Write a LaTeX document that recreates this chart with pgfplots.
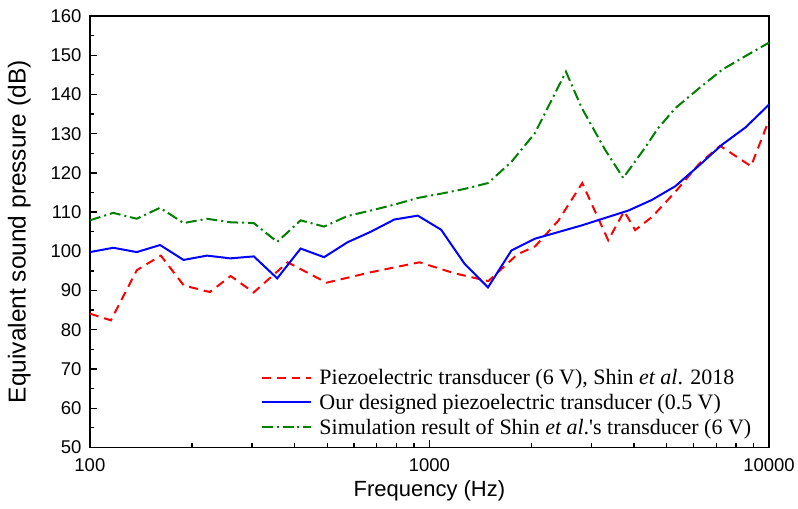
\documentclass[border=0pt]{standalone}
\usepackage{fontspec}
\setmainfont{Liberation Serif}
\newfontfamily\arial{Liberation Sans}
\usepackage{pgfplots}
\pgfplotsset{compat=1.18}
\definecolor{cred}{RGB}{255,0,0}
\definecolor{cblue}{RGB}{0,0,255}
\definecolor{cgreen}{RGB}{0,128,0}
\begin{document}
\begin{tikzpicture}
\begin{axis}[
  xmode=log,
  width=680pt, height=432pt, scale only axis,
  xmin=100, xmax=10000, ymin=50, ymax=160,
  xtick={100,1000,10000}, xticklabels={100,1000,10000},
  minor xtick={200,300,400,500,600,700,800,900,2000,3000,4000,5000,6000,7000,8000,9000},
  ytick={50,60,...,160}, minor y tick num=1,
  xtick pos=bottom, ytick pos=left,
  tick align=inside,
  major tick length=7.5pt, minor tick length=4.3pt,
  axis line style={line width=1.5pt},
  every tick/.style={black, line width=1.3pt},
  /pgf/number format/assume math mode=true,
  tick label style={font=\arial\fontsize{18.5}{18.5}\selectfont},
  xticklabel style={yshift=-8pt},
  yticklabel style={xshift=-5pt},
  xlabel={Frequency (Hz)}, ylabel={Equivalent sound pressure (dB)},
  xlabel style={font=\arial\fontsize{22}{22}\selectfont, at={(axis description cs:0.5,-0.0995)},anchor=center},
  ylabel style={font=\arial\fontsize{24.5}{24.5}\selectfont, at={(axis description cs:-0.104,0.5)},anchor=center},
  legend style={draw=none, fill=none, at={(rel axis cs:0.977,0.022)}, anchor=south east,
    font=\fontsize{22}{22}\selectfont, row sep=4pt, column sep=5pt, inner sep=0pt,
    legend cell align=left},
  legend image code/.code={\draw[#1] (0pt,0pt) -- (25pt,0pt) -- (50pt,0pt);},
  clip=true,
]
\addplot[cred, line width=2pt, dash pattern=on 9pt off 6pt] coordinates {
(100,84.1) (115.3,82.4) (137.5,95.2) (161.8,98.9) (189.0,91.3) (225.4,89.6) (259.8,93.7) (303.6,89.5) (382.3,97.2) (497.8,92.0) (675.2,94.7) (934.5,97.2) (1184.5,94.4) (1491.2,92.4) (1814.7,99.2) (2050.1,101.3) (2395.6,107.8) (2818.4,117.4) (3361.0,102.8) (3745.9,110.2) (4035.7,105.4) (4527.7,108.8) (5290.9,115.1) (6224.7,122.3) (7175.7,126.9) (8852.5,121.7) (10000,133.5)
};
\addlegendentry{Piezoelectric transducer (6 V), Shin \textit{et al}. 2018}
\addplot[cblue, line width=2pt] coordinates {
(100,99.8) (117.2,100.9) (137.4,99.8) (161.0,101.6) (188.7,97.8) (221.2,98.9) (259.3,98.2) (303.9,98.7) (356.2,93.1) (417.5,100.7) (489.4,98.5) (573.6,102.3) (672.3,105.0) (788.1,108.1) (923.7,109.1) (1082.6,105.5) (1269.0,96.8) (1487.4,90.8) (1743.3,100.2) (2043.4,103.2) (2395.0,104.9) (2807.2,106.6) (3290.3,108.5) (3856.6,110.4) (4520.3,113.1) (5298.3,116.6) (6210.1,121.8) (7278.9,127.2) (8531.6,131.6) (10000,137.4)
};
\addlegendentry{Our designed piezoelectric transducer (0.5 V)}
\addplot[cgreen, line width=2pt, dash pattern=on 11pt off 4pt on 2pt off 4pt] coordinates {
(100,107.9) (117.2,109.8) (137.4,108.3) (161.0,111.1) (188.7,107.2) (221.2,108.3) (259.3,107.4) (303.9,107.2) (356.2,102.4) (417.5,107.9) (489.4,106.3) (573.6,109.0) (672.3,110.4) (788.1,111.9) (923.7,113.6) (1082.6,114.7) (1269.0,115.9) (1487.4,117.4) (1743.3,122.8) (2043.4,130.1) (2524,145.8) (2807.2,136.6) (3290.3,125.9) (3721,118.7) (4339,126.7) (4695,131.2) (5298.3,136.5) (6210.1,141.5) (7278.9,146.3) (8531.6,149.8) (10000,153.2)
};
\addlegendentry{Simulation result of Shin \textit{et al}.\textquotesingle s transducer (6 V)}
\end{axis}
\path[use as bounding box] (current axis.south west) ++(-90pt,-61pt) rectangle ([shift={(28pt,16pt)}]current axis.north east);
\end{tikzpicture}
\end{document}
